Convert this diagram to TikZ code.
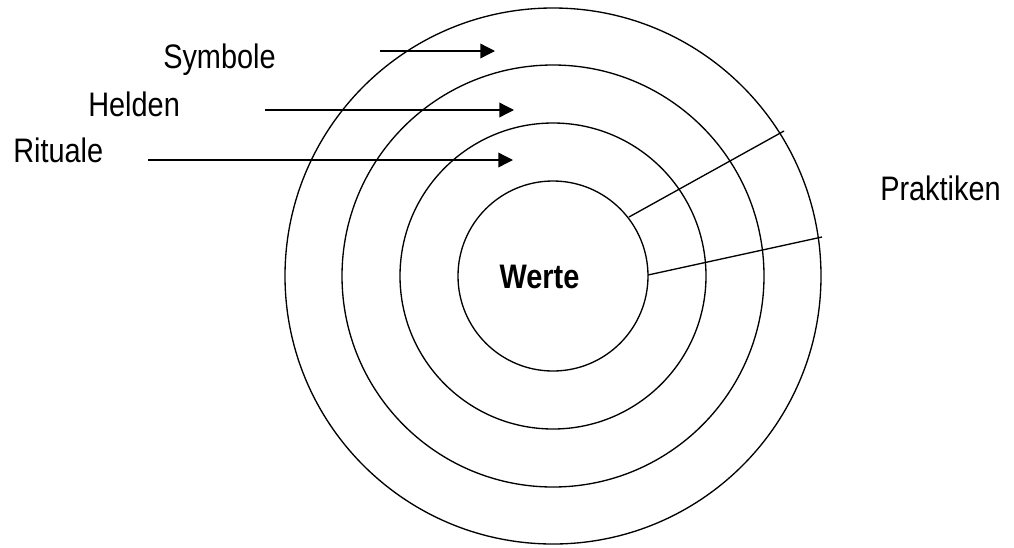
\documentclass[tikz,border=0pt]{standalone}
\usepackage{fontspec}
\setmainfont{Liberation Sans}[FakeStretch=0.85]
\usetikzlibrary{arrows.meta}

\tikzset{
  ring/.style={line width=1pt},
  pointer/.style={line width=1pt, -{Triangle[length=11pt, width=11pt]}},
  label/.style={inner sep=0pt, font=\fontsize{25.5}{30}\selectfont},
}

\begin{document}
\begin{tikzpicture}[x=0.75pt, y=-0.75pt]
  %
  \useasboundingbox (0,0) rectangle (1014,547);
  \coordinate (o) at (553,276);
  %
  \foreach \r in {95,153,211,268}
    \draw[ring] (o) circle (\r);
  %
  \node[label, anchor=base] (werte) at (539.5,288) {\bfseries Werte};
  \node[label, anchor=base west] (symbole) at (163,68) {Symbole};
  \node[label, anchor=base west] (helden) at (88,116.5) {Helden};
  \node[label, anchor=base west] (rituale) at (13,162) {Rituale};
  \node[label, anchor=base west] (praktiken) at (880,200) {Praktiken};
  %
  \coordinate (s1) at (380,51);  \coordinate (s2) at (495,51);
  \coordinate (h1) at (265,110); \coordinate (h2) at (514,110);
  \coordinate (r1) at (148,160); \coordinate (r2) at (513,160);
  \draw[pointer] (s1) -- (s2);
  \draw[pointer] (h1) -- (h2);
  \draw[pointer] (r1) -- (r2);
  %
  \coordinate (p1) at (629,217); \coordinate (p2) at (784,131);
  \coordinate (q1) at (648,275); \coordinate (q2) at (822,237);
  \draw[ring] (p1) -- (p2);
  \draw[ring] (q1) -- (q2);
\end{tikzpicture}
\end{document}
